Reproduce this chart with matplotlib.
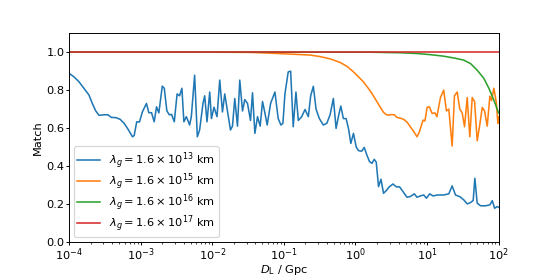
import numpy as np
import matplotlib
matplotlib.use("Agg")
import matplotlib.pyplot as plt

# log10(D_L / Gpc) and match values
logd_13 = [-4.000, -3.934, -3.864, -3.794, -3.724, -3.678, -3.631, -3.584, -3.514, -3.460,
           -3.411, -3.348, -3.289, -3.233, -3.177, -3.117, -3.093, -3.057, -3.019, -2.977,
           -2.921, -2.888, -2.850, -2.813, -2.780, -2.748, -2.700, -2.672, -2.636, -2.602,
           -2.570, -2.532, -2.493, -2.458, -2.426, -2.398, -2.364, -2.342, -2.318, -2.294,
           -2.248, -2.210, -2.178, -2.131, -2.107, -2.075, -2.037, -2.013, -1.977, -1.935,
           -1.897, -1.859, -1.827, -1.789, -1.747, -1.719, -1.687, -1.649, -1.617, -1.579,
           -1.547, -1.509, -1.467, -1.439, -1.406, -1.369, -1.332, -1.299, -1.266, -1.234,
           -1.186, -1.126, -1.080, -1.042, -1.014, -0.986, -0.940, -0.906, -0.870, -0.832,
           -0.799, -0.752, -0.705, -0.659, -0.626, -0.589, -0.551, -0.505, -0.449, -0.401,
           -0.355, -0.309, -0.271, -0.239, -0.205, -0.169, -0.131, -0.098, -0.065, -0.028,
           0.010, 0.042, 0.087, 0.122, 0.159, 0.196, 0.230, 0.262, 0.290, 0.322,
           0.356, 0.392, 0.430, 0.472, 0.524, 0.570, 0.616, 0.673, 0.720, 0.766,
           0.823, 0.860, 0.907, 0.953, 0.991, 1.037, 1.085, 1.141, 1.233, 1.304,
           1.351, 1.397, 1.458, 1.514, 1.561, 1.608, 1.645, 1.668, 1.701, 1.748,
           1.818, 1.878, 1.912, 1.944, 1.982, 2.000]
match_13 = [0.888, 0.870, 0.844, 0.809, 0.774, 0.730, 0.691, 0.667, 0.670, 0.670,
            0.656, 0.655, 0.646, 0.625, 0.593, 0.554, 0.560, 0.633, 0.632, 0.686,
            0.730, 0.681, 0.681, 0.633, 0.712, 0.680, 0.821, 0.810, 0.691, 0.670,
            0.672, 0.633, 0.780, 0.770, 0.810, 0.633, 0.660, 0.640, 0.616, 0.660,
            0.879, 0.554, 0.590, 0.730, 0.770, 0.633, 0.790, 0.650, 0.710, 0.660,
            0.853, 0.685, 0.780, 0.690, 0.590, 0.610, 0.756, 0.610, 0.853, 0.690,
            0.750, 0.730, 0.640, 0.786, 0.572, 0.660, 0.610, 0.740, 0.680, 0.616,
            0.730, 0.790, 0.650, 0.616, 0.625, 0.780, 0.896, 0.900, 0.607, 0.790,
            0.640, 0.660, 0.698, 0.660, 0.770, 0.820, 0.700, 0.650, 0.616, 0.625,
            0.670, 0.756, 0.598, 0.660, 0.716, 0.650, 0.650, 0.598, 0.519, 0.572,
            0.500, 0.481, 0.478, 0.498, 0.458, 0.423, 0.414, 0.435, 0.420, 0.291,
            0.330, 0.256, 0.270, 0.290, 0.305, 0.290, 0.290, 0.260, 0.235, 0.239,
            0.253, 0.235, 0.242, 0.247, 0.230, 0.253, 0.242, 0.247, 0.247, 0.253,
            0.295, 0.247, 0.238, 0.221, 0.200, 0.207, 0.218, 0.335, 0.204, 0.190,
            0.190, 0.195, 0.217, 0.177, 0.186, 0.182]

logd_15 = [-4.000, -2.000, -1.477, -1.196, -0.916, -0.635, -0.495, -0.355, -0.215, -0.117,
           -0.033, 0.037, 0.108, 0.178, 0.234, 0.290, 0.346, 0.388, 0.423, 0.458,
           0.500, 0.542, 0.580, 0.626, 0.673, 0.724, 0.766, 0.808, 0.860, 0.893,
           0.944, 0.970, 1.001, 1.033, 1.071, 1.110, 1.138, 1.187, 1.233, 1.271,
           1.304, 1.351, 1.383, 1.421, 1.458, 1.491, 1.524, 1.561, 1.598, 1.631,
           1.664, 1.701, 1.738, 1.772, 1.804, 1.841, 1.878, 1.902, 1.934, 1.968,
           1.990, 2.000]
match_15 = [1.000, 1.000, 0.999, 0.995, 0.990, 0.985, 0.977, 0.965, 0.946, 0.925,
            0.898, 0.872, 0.845, 0.810, 0.780, 0.745, 0.710, 0.685, 0.672, 0.668,
            0.671, 0.670, 0.656, 0.652, 0.646, 0.630, 0.607, 0.585, 0.554, 0.580,
            0.642, 0.637, 0.709, 0.712, 0.677, 0.680, 0.660, 0.760, 0.800, 0.690,
            0.700, 0.505, 0.770, 0.790, 0.700, 0.680, 0.607, 0.761, 0.554, 0.761,
            0.740, 0.533, 0.620, 0.709, 0.690, 0.610, 0.768, 0.745, 0.810, 0.735,
            0.625, 0.660]

logd_16 = [-4.000, 0.206, 0.626, 0.860, 1.047, 1.233, 1.397, 1.514, 1.608, 1.701,
           1.794, 1.864, 1.934, 2.000]
match_16 = [1.000, 1.000, 0.997, 0.993, 0.987, 0.979, 0.968, 0.958, 0.940, 0.905,
            0.862, 0.810, 0.747, 0.680]

logd_17 = [-4.0, 2.0]
match_17 = [1.0, 1.0]

labels = [r"$\lambda_g = 1.6\times10^{13}$ km",
          r"$\lambda_g = 1.6\times10^{15}$ km",
          r"$\lambda_g = 1.6\times10^{16}$ km",
          r"$\lambda_g = 1.6\times10^{17}$ km"]

plt.rcParams["font.size"] = 9.5
plt.rcParams["xtick.major.size"] = 2.3
plt.rcParams["ytick.major.size"] = 2.3
plt.rcParams["xtick.minor.size"] = 1.3
plt.rcParams["xtick.major.pad"] = 1.5
plt.rcParams["ytick.major.pad"] = 1.5
plt.rcParams["lines.linewidth"] = 1.3

fig = plt.figure(figsize=(6.4, 3.2), dpi=86.5625)
ax = fig.add_axes([0.125, 0.127, 0.775, 0.753])

series = [(logd_13, match_13), (logd_15, match_15), (logd_16, match_16), (logd_17, match_17)]
for (lx, m), lab in zip(series, labels):
    ax.plot(10 ** np.array(lx), m, label=lab)

ax.set_xscale("log")
ax.set_xlim(1e-4, 1e2)
ax.set_ylim(0, 1.1)
ax.set_yticks([0.0, 0.2, 0.4, 0.6, 0.8, 1.0])
ax.set_xlabel(r"$D_{\rm L}$ / Gpc", labelpad=0)
ax.set_ylabel("Match", labelpad=3)
ax.legend(loc="lower left", labelspacing=0.0, borderpad=0.3, borderaxespad=0.4)

fig.savefig("out.png", dpi=86.5625)
